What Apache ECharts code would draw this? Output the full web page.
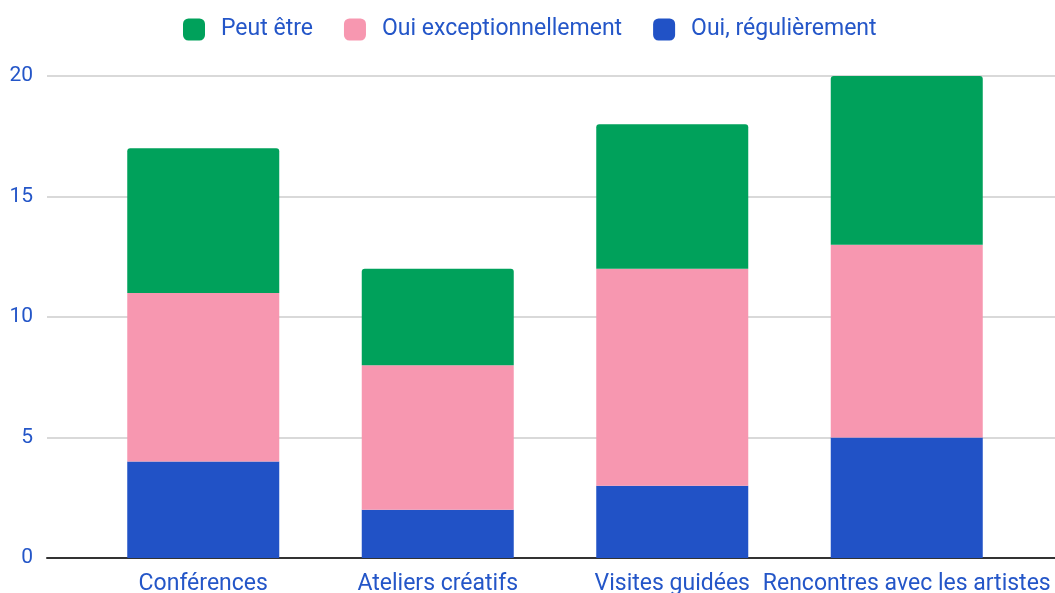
<!DOCTYPE html>
<html>
<head>
    <meta charset="utf-8">
    <title>Activités</title>
    <script src="https://cdn.jsdelivr.net/npm/echarts@6/dist/echarts.min.js"></script>
    <style>
        html, body { margin: 0; padding: 0; background: #fff; }
    </style>
</head>
<body>
    <div id="chart" style="width:1055px; height:593px"></div>

    <script>
        // données
        const categories = ['Conférences', 'Ateliers créatifs', 'Visites guidées', 'Rencontres avec les artistes'];
        const reguliers = [4, 2, 3, 5];
        const exceptionnels = [7, 6, 9, 8];
        const peutEtre = [6, 4, 6, 7];
        const yTicks = [0, 5, 10, 15, 20];

        const textColor = '#2456c8';
        const font = 'Roboto, Arial, sans-serif';

        let chart = echarts.init(document.getElementById('chart'));

        let option = {
            animation: false,
            legend: {
                top: 13,
                left: 178,
                itemWidth: 22,
                itemHeight: 22,
                itemGap: 31,
                icon: 'roundRect',
                textStyle: { color: textColor, fontSize: 23, fontFamily: font, padding: [0, 0, 0, 11] },
                data: ['Peut être', 'Oui exceptionnellement', 'Oui, régulièrement']
            },
            grid: [
                // grille pour les lignes et l'axe Y
                { left: 47, right: 0, top: 76, bottom: 35, outerBoundsMode: 'none' },
                // grille pour les barres
                { left: 86, right: 31, top: 76, bottom: 35, outerBoundsMode: 'none' }
            ],
            xAxis: [
                {
                    gridIndex: 0,
                    type: 'category',
                    data: [''],
                    axisLine: { show: true, lineStyle: { color: '#333', width: 2 } },
                    axisTick: { show: false },
                    axisLabel: { show: false }
                },
                {
                    gridIndex: 1,
                    type: 'category',
                    data: categories,
                    axisLine: { show: false },
                    axisTick: { show: false },
                    axisLabel: { color: textColor, fontSize: 23, fontFamily: font, margin: 15, interval: 0 }
                }
            ],
            yAxis: [
                {
                    gridIndex: 0,
                    type: 'value',
                    min: yTicks[0],
                    max: yTicks[yTicks.length - 1],
                    interval: 5,
                    axisLine: { show: false },
                    axisTick: { show: false },
                    axisLabel: { color: textColor, fontSize: 21, fontFamily: font, margin: 14 },
                    splitLine: { lineStyle: { color: '#cccccc', width: 1.5 } }
                },
                {
                    gridIndex: 1,
                    type: 'value',
                    min: yTicks[0],
                    max: yTicks[yTicks.length - 1],
                    interval: 5,
                    show: false,
                    splitLine: { show: false }
                }
            ],
            series: [
                {
                    name: 'Oui, régulièrement',
                    type: 'bar',
                    stack: 'total',
                    xAxisIndex: 1,
                    yAxisIndex: 1,
                    barWidth: 152,
                    itemStyle: { color: '#2152c6' },
                    data: reguliers
                },
                {
                    name: 'Oui exceptionnellement',
                    type: 'bar',
                    stack: 'total',
                    xAxisIndex: 1,
                    yAxisIndex: 1,
                    barWidth: 152,
                    itemStyle: { color: '#f797b0' },
                    data: exceptionnels
                },
                {
                    name: 'Peut être',
                    type: 'bar',
                    stack: 'total',
                    xAxisIndex: 1,
                    yAxisIndex: 1,
                    barWidth: 152,
                    itemStyle: { color: '#00a15b', borderRadius: [3, 3, 0, 0] },
                    data: peutEtre
                }
            ]
        };

        chart.setOption(option);
    </script>
</body>
</html>
